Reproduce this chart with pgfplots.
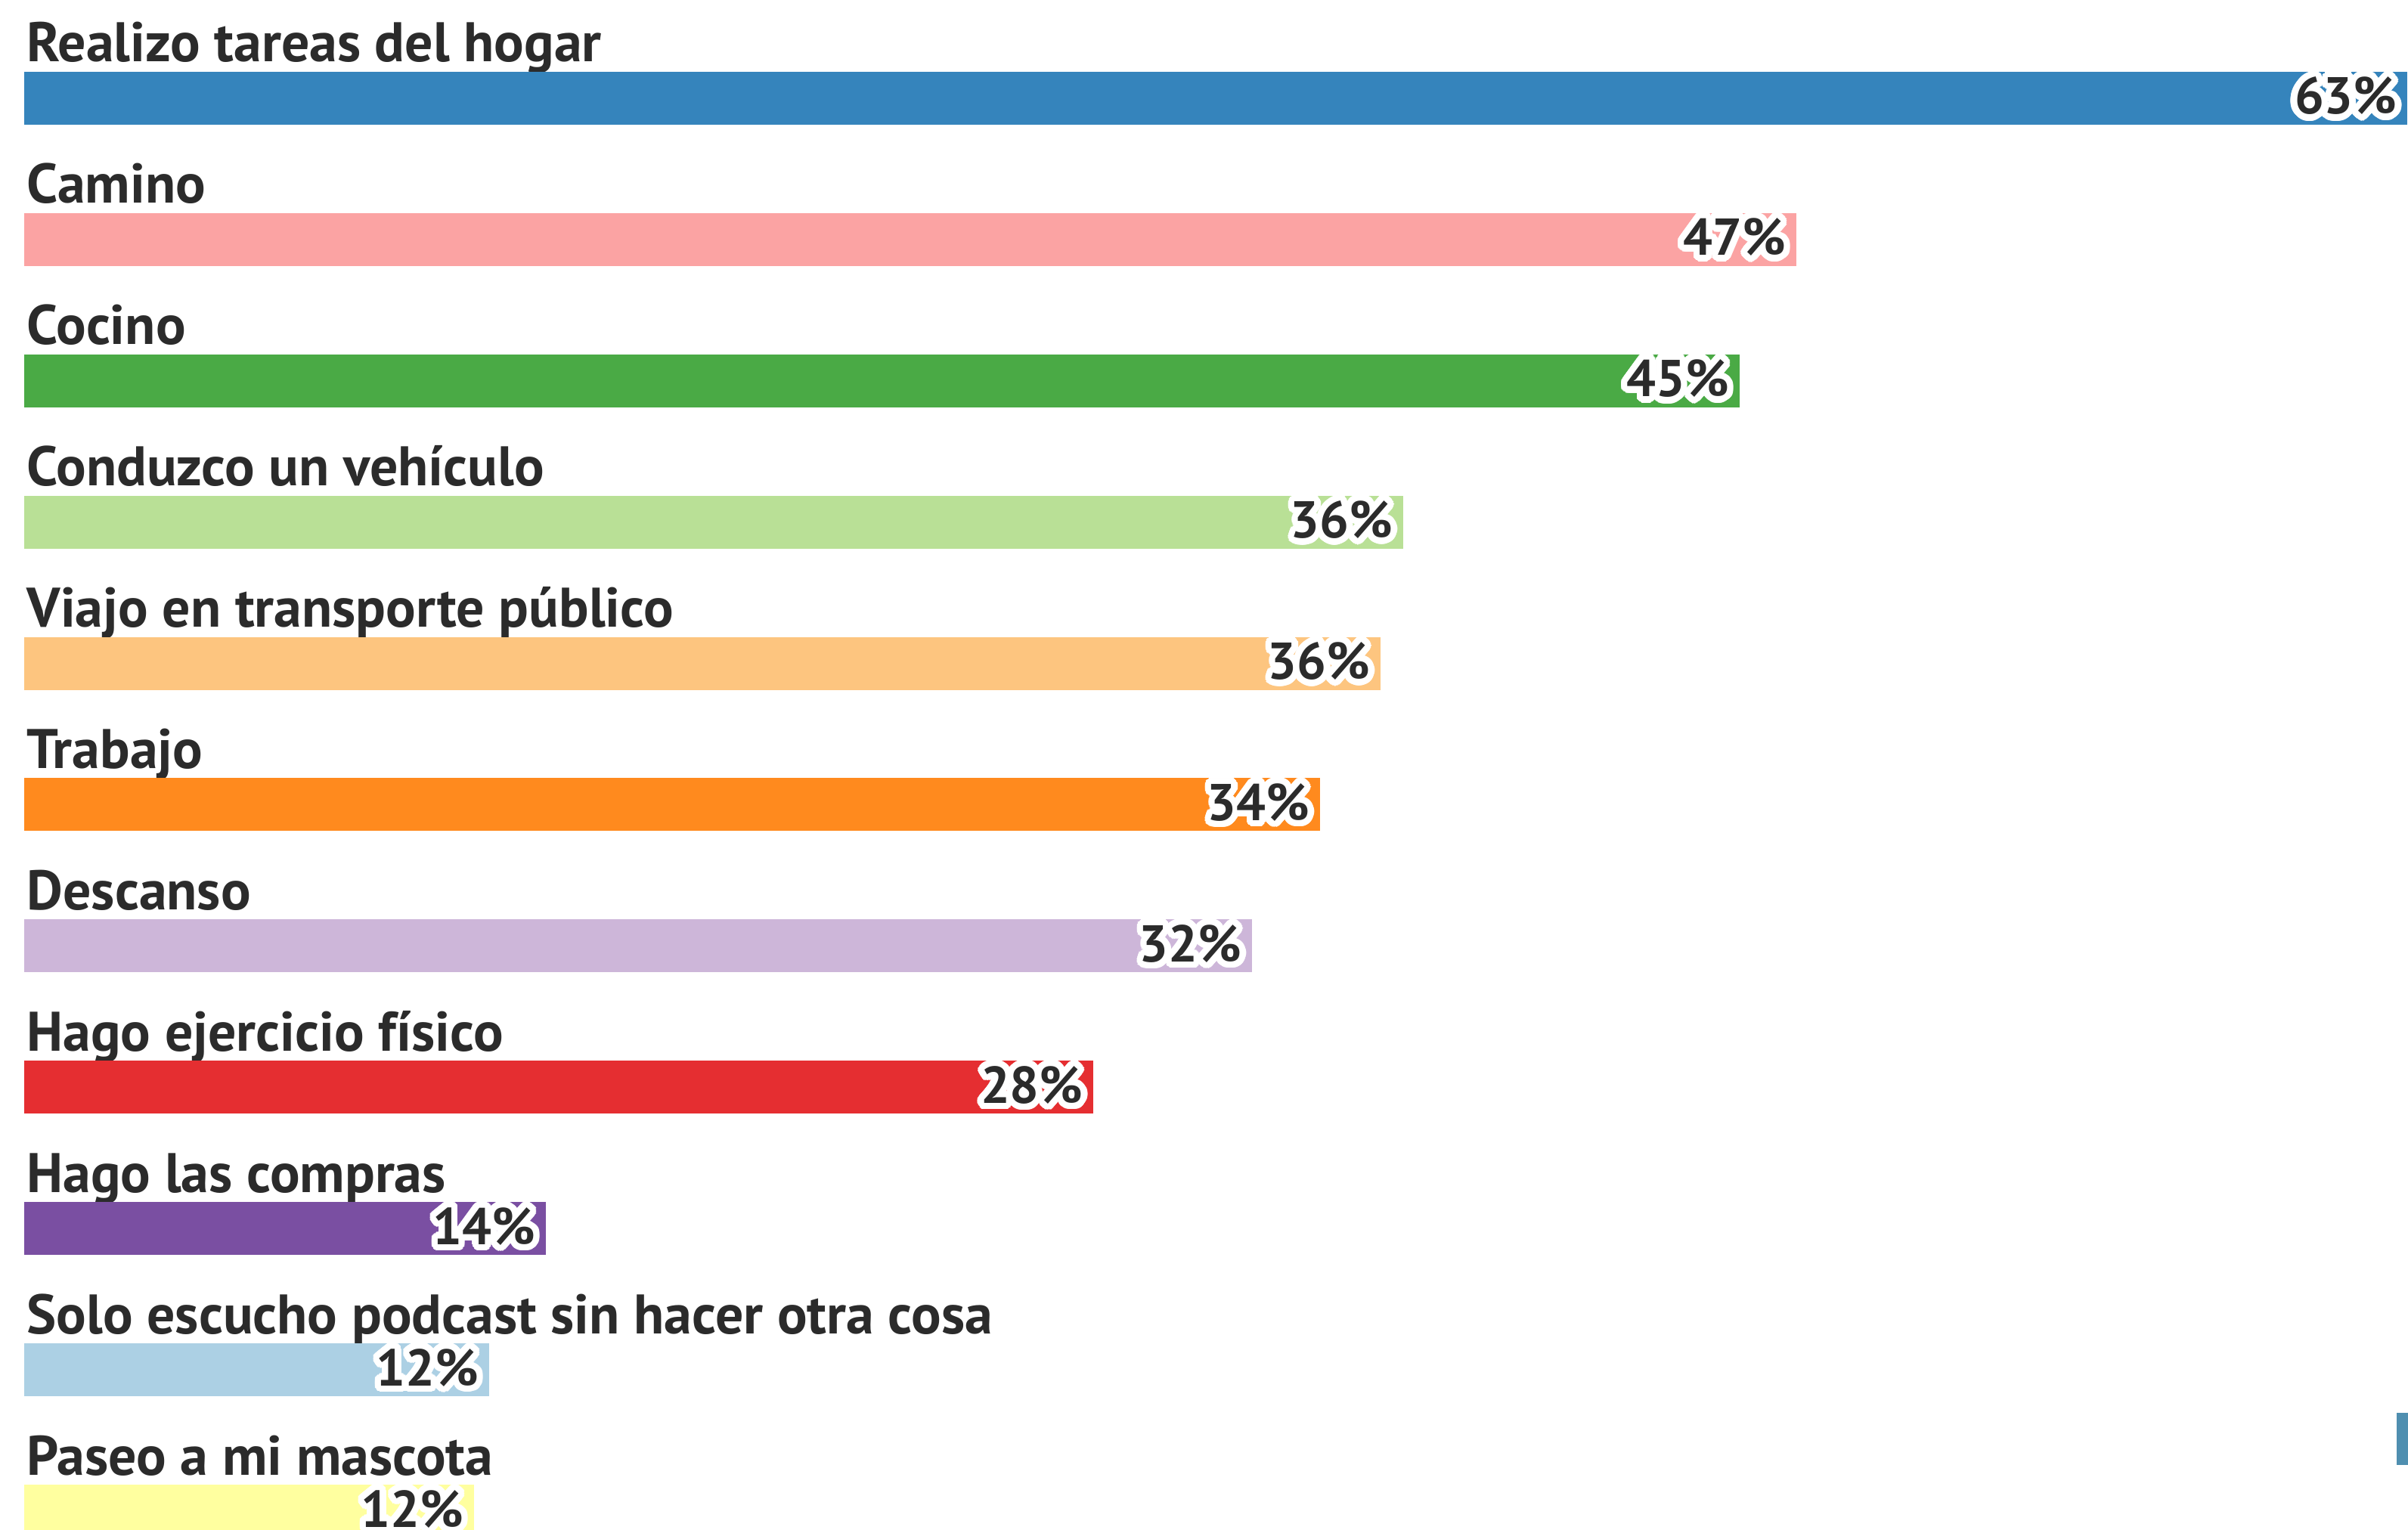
\documentclass[border=0pt]{standalone}
\usepackage{pgfplots}
\pgfplotsset{compat=1.18}
\usepackage{fontspec}
\setmainfont{PT Sans}
\usepackage[copies]{contour}
\contourlength{2.4pt}
\contournumber{32}

\definecolor{txt}{HTML}{2B2B2B}
\definecolor{c1}{HTML}{3584BC}
\definecolor{c2}{HTML}{FBA3A3}
\definecolor{c3}{HTML}{4AAA45}
\definecolor{c4}{HTML}{B9E096}
\definecolor{c5}{HTML}{FDC57F}
\definecolor{c6}{HTML}{FF8A1E}
\definecolor{c7}{HTML}{CDB6D9}
\definecolor{c8}{HTML}{E52E31}
\definecolor{c9}{HTML}{7A4FA2}
\definecolor{c10}{HTML}{ACD0E4}
\definecolor{c11}{HTML}{FFFF9F}
\definecolor{btn}{HTML}{4F8FB0}

\begin{document}
\begin{tikzpicture}
\begin{axis}[
    name=ax,
    scale only axis,
    width=31.85cm, height=20.23cm,
    xmin=-0.64, xmax=63.1,
    ymin=-2023, ymax=0,
    axis line style={draw=none},
    tick style={draw=none},
    xtick=\empty,
    ytick={-82,-268.9,-455.8,-642.7,-829.6,-1016.5,-1203.4,-1390.3,-1577.2,-1764.1,-1951},
    yticklabels={Realizo tareas del hogar, Camino, Cocino, Conduzco un vehículo,
        Viajo en transporte público, Trabajo, Descanso, Hago ejercicio físico,
        Hago las compras, Solo escucho podcast sin hacer otra cosa, Paseo a mi mascota},
    yticklabel style={anchor=base west, inner sep=0pt, xshift=0.50cm,
        font=\fontsize{21}{25}\selectfont\bfseries, text=txt},
    xbar, bar width=70, bar shift=0pt,
    point meta=explicit symbolic,
    nodes near coords={\contour{white}{\pgfplotspointmeta}},
    every node near coord/.append style={anchor=base east, inner sep=0pt,
        xshift=-0.13cm, yshift=-0.21cm,
        font=\fontsize{19.5}{23}\selectfont\bfseries, text=txt},
]
\addplot[fill=c1, draw=none] coordinates {(63.08,-130) [63\%]};
\addplot[fill=c2, draw=none] coordinates {(46.9,-316.9) [47\%]};
\addplot[fill=c3, draw=none] coordinates {(45.4,-503.8) [45\%]};
\addplot[fill=c4, draw=none] coordinates {(36.5,-690.7) [36\%]};
\addplot[fill=c5, draw=none] coordinates {(35.9,-877.6) [36\%]};
\addplot[fill=c6, draw=none] coordinates {(34.3,-1064.5) [34\%]};
\addplot[fill=c7, draw=none] coordinates {(32.5,-1251.4) [32\%]};
\addplot[fill=c8, draw=none] coordinates {(28.3,-1438.3) [28\%]};
\addplot[fill=c9, draw=none] coordinates {(13.8,-1625.2) [14\%]};
\addplot[fill=c10, draw=none] coordinates {(12.3,-1812.1) [12\%]};
\addplot[fill=c11, draw=none] coordinates {(11.9,-1999) [12\%]};
\fill[btn] (axis cs:62.8,-1869) rectangle (axis cs:63.1,-1938);
\end{axis}
\pgfresetboundingbox
\path[use as bounding box] (ax.south west) rectangle (ax.north east);
\end{tikzpicture}
\end{document}
